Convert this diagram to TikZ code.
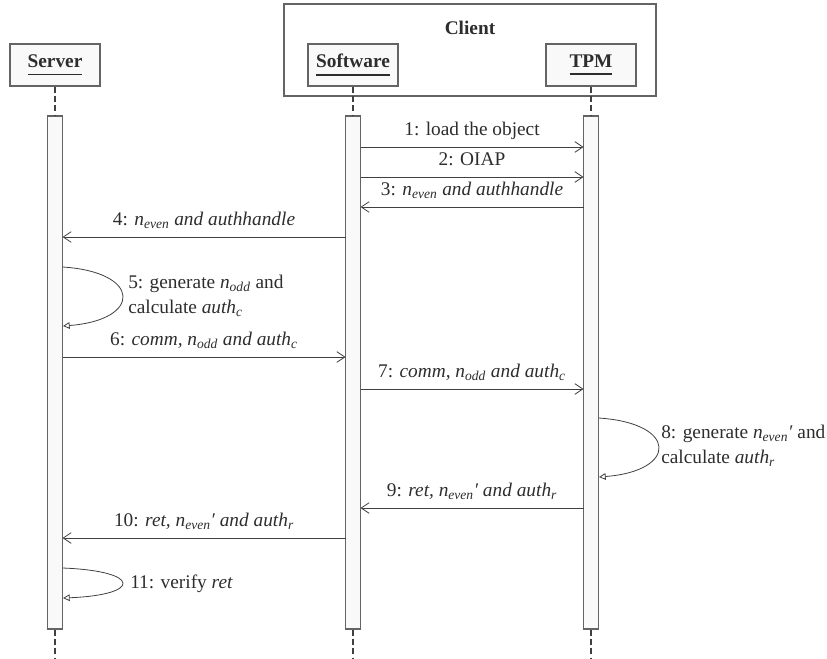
\documentclass[tikz,border=0pt]{standalone}
\usepackage{fontspec}
\setmainfont{Liberation Serif}
\usepackage{tikz}
\usetikzlibrary{arrows.meta}

\definecolor{linegray}{RGB}{64,64,64}
\definecolor{framegray}{RGB}{100,100,100}
\definecolor{boxfill}{RGB}{249,249,249}
\definecolor{txtgray}{RGB}{45,45,45}

% bold name with a thick rule under it
\newcommand{\hdrname}[1]{\setbox0\hbox{\textbf{#1}}\vtop{\copy0\kern4.5pt\hrule height 1.3pt width \wd0}}

\begin{document}
\begin{tikzpicture}[x=0.75pt,y=0.75pt,yscale=-1,xscale=1,
  every node/.style={font=\fontsize{14.5}{18.75}\selectfont,text=txtgray},
  lifehead/.style={draw=framegray,fill=boxfill,line width=0.9pt,minimum width=67.5pt,minimum height=31.5pt,inner sep=0pt},
  actbar/.style={draw=framegray,fill=boxfill,line width=0.9pt,minimum width=11.25pt,minimum height=384.75pt,inner sep=0pt},
  lifeline/.style={draw=linegray,line width=1.1pt,dash pattern=on 4.5pt off 2.5pt},
  msgline/.style={draw=linegray,line width=0.6pt,-{Straight Barb[length=6pt,width=8pt]}},
  selfcall/.style={draw=linegray,line width=0.6pt,-{Triangle[open,length=5pt,width=5pt]}},
  msglabel/.style={anchor=base,yshift=8.5pt,inner sep=0pt},
  note/.style={align=left,inner sep=0pt}]
\useasboundingbox (0,0) rectangle (827,659);

%Client frame
\draw [draw=framegray,line width=0.9pt] (284,4) rectangle (656,96);
\node (client) at (470,28) {\textbf{Client}};

%Heads
\node [lifehead] (server) at (55,65) {\hdrname{Server}};
\node [lifehead] (software) at (353,65) {\hdrname{Software}};
\node [lifehead] (tpm) at (591,65) {\hdrname{TPM}};

%Activation bars
\node [actbar] (serverbar) at (55,372.5) {};
\node [actbar] (softwarebar) at (353,372.5) {};
\node [actbar] (tpmbar) at (591,372.5) {};

%Lifelines
\coordinate (serverend) at (55,659);
\coordinate (softwareend) at (353,659);
\coordinate (tpmend) at (591,659);
\draw [lifeline] (server) -- (serverbar);
\draw [lifeline] (serverbar) -- (serverend);
\draw [lifeline] (software) -- (softwarebar);
\draw [lifeline] (softwarebar) -- (softwareend);
\draw [lifeline] (tpm) -- (tpmbar);
\draw [lifeline] (tpmbar) -- (tpmend);

% 1
\coordinate (m1a) at (360.5,147);
\coordinate (m1b) at (583.5,147);
\draw [msgline] (m1a) -- node [msglabel] {1: load the object} (m1b);
% 2
\coordinate (m2a) at (360.5,177);
\coordinate (m2b) at (583.5,177);
\draw [msgline] (m2a) -- node [msglabel] {2: OIAP} (m2b);
% 3
\coordinate (m3a) at (583.5,207);
\coordinate (m3b) at (360.5,207);
\draw [msgline] (m3a) -- node [msglabel] {3: \textit{n\textsubscript{even} and authhandle}} (m3b);
% 4
\coordinate (m4a) at (345.5,237);
\coordinate (m4b) at (62.5,237);
\draw [msgline] (m4a) -- node [msglabel] {4: \textit{n\textsubscript{even} and authhandle}} (m4b);
% 5
\coordinate (l5a) at (62.5,267);
\coordinate (l5b) at (63,326);
\draw [selfcall] (l5a) .. controls (142,272) and (142,320) .. (l5b);
\node [note,anchor=west] (n5) at (128,296) {5: generate \textit{n\textsubscript{odd}} and\\calculate \textit{auth\textsubscript{c}}};
% 6
\coordinate (m6a) at (62.5,357);
\coordinate (m6b) at (345.5,357);
\draw [msgline] (m6a) -- node [msglabel] {6: \textit{comm, n\textsubscript{odd} and auth\textsubscript{c}}} (m6b);
% 7
\coordinate (m7a) at (360.5,389);
\coordinate (m7b) at (583.5,389);
\draw [msgline] (m7a) -- node [msglabel] {7: \textit{comm, n\textsubscript{odd} and auth\textsubscript{c}}} (m7b);
% 8
\coordinate (l8a) at (598.5,418);
\coordinate (l8b) at (599,477);
\draw [selfcall] (l8a) .. controls (678,423) and (678,471) .. (l8b);
\node [note,anchor=west] (n8) at (661,446) {8: generate \textit{n\textsubscript{even}′} and\\calculate \textit{auth\textsubscript{r}}};
% 9
\coordinate (m9a) at (583.5,508);
\coordinate (m9b) at (360.5,508);
\draw [msgline] (m9a) -- node [msglabel] {9: \textit{ret, n\textsubscript{even}′ and auth\textsubscript{r}}} (m9b);
% 10
\coordinate (m10a) at (345.5,538);
\coordinate (m10b) at (62.5,538);
\draw [msgline] (m10a) -- node [msglabel] {10: \textit{ret, n\textsubscript{even}′ and auth\textsubscript{r}}} (m10b);
% 11
\coordinate (l11a) at (62.5,568);
\coordinate (l11b) at (63,598);
\draw [selfcall] (l11a) .. controls (142,571) and (142,595) .. (l11b);
\node [anchor=base west,inner sep=0pt] (n11) at (130,588) {11: verify \textit{ret}};

\end{tikzpicture}
\end{document}
